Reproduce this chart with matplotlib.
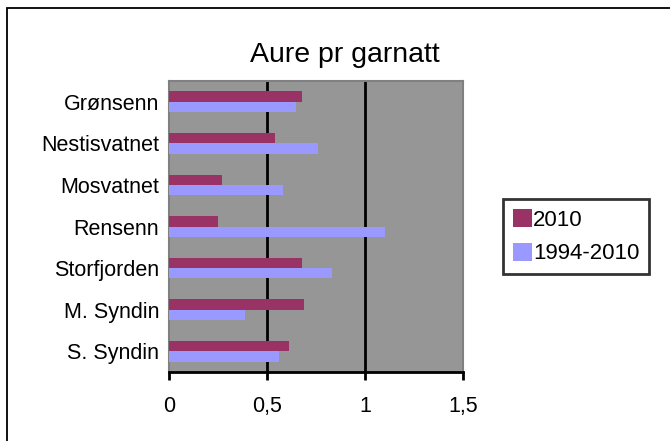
import numpy as np
import matplotlib.pyplot as plt
from matplotlib.patches import Rectangle

plt.rcParams['font.family'] = ['Liberation Sans', 'DejaVu Sans']

# data (top to bottom as shown)
innsjo = ["Grønsenn", "Nestisvatnet", "Mosvatnet", "Rensenn",
          "Storfjorden", "M. Syndin", "S. Syndin"]
aar_2010 = [0.68, 0.54, 0.27, 0.25, 0.68, 0.69, 0.61]
aar_1994_2010 = [0.65, 0.76, 0.58, 1.10, 0.83, 0.39, 0.56]
xticks = [0, 0.5, 1, 1.5]
xtick_labels = ["0", "0,5", "1", "1,5"]

W, H = 670, 441
fig = plt.figure(figsize=(W / 100, H / 100), dpi=100)
fig.patch.set_facecolor("white")

# outer chart frame (cut off at right and bottom like the original)
fig.patches.append(Rectangle((7 / W, -0.05), 1.1, 1 - 8 / H + 0.05,
                             transform=fig.transFigure, fill=False,
                             edgecolor="black", linewidth=1.3))

ax = fig.add_axes([169 / W, (H - 372) / H, (463 - 169) / W, (372 - 81) / H])
ax.set_facecolor("#969696")

y = np.arange(len(innsjo))
h = 0.25
ax.barh(y - h / 2, aar_2010, height=h, color="#993366", label="2010", zorder=3)
ax.barh(y + h / 2, aar_1994_2010, height=h, color="#9999FF", label="1994-2010", zorder=3)

ax.set_xlim(0, 1.5)
ax.set_ylim(len(innsjo) - 0.5, -0.5)
ax.set_xticks(xticks)
ax.set_xticklabels(xtick_labels, fontsize=15.5)
ax.set_yticks(y)
ax.set_yticklabels(innsjo, fontsize=15.5)
ax.tick_params(axis="y", length=0, pad=7)
ax.tick_params(axis="x", length=6, width=2, direction="out", pad=11)

for v in [0.5, 1]:
    ax.axvline(v, color="black", linewidth=2, zorder=2)

for s in ["top", "right", "left"]:
    ax.spines[s].set_color("#808080")
    ax.spines[s].set_linewidth(1.5)
ax.spines["bottom"].set_color("black")
ax.spines["bottom"].set_linewidth(2)

fig.text(345 / W, 1 - 62 / H, "Aure pr garnatt", fontsize=20.5, ha="center",
         va="baseline")

leg = fig.legend(loc="upper left", bbox_to_anchor=(503 / W, 1 - 199 / H),
                 fontsize=16, frameon=True, fancybox=False,
                 handlelength=0.85, handleheight=0.85, handletextpad=0.05,
                 borderpad=0.45, labelspacing=0.55, borderaxespad=0)
leg.get_frame().set_edgecolor("black")
leg.get_frame().set_linewidth(2)

fig.savefig("out.png", dpi=100)
